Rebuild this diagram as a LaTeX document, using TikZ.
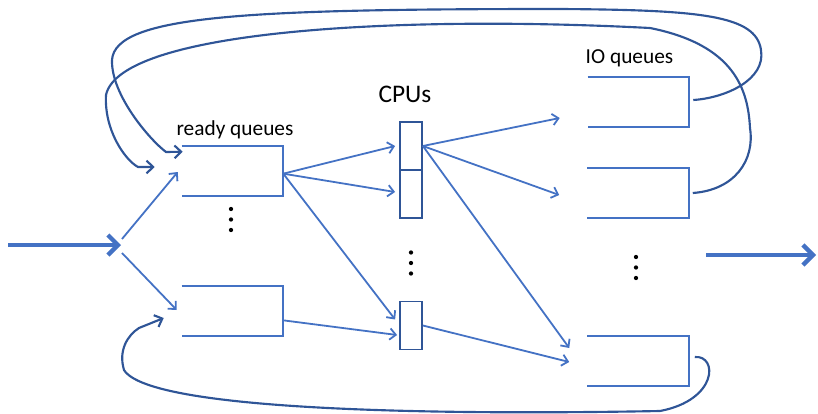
\documentclass[tikz,border=0pt]{standalone}
\usepackage{fontspec}
\setmainfont{Carlito}
\usetikzlibrary{arrows.meta,calc}
\definecolor{qblue}{RGB}{68,114,196}
\definecolor{fblue}{RGB}{47,85,151}
\tikzset{
  qbox/.style={minimum width=75.75pt, minimum height=37.5pt, inner sep=0pt},
  qline/.style={draw=qblue, line width=1.35pt},
  cpubox/.style={draw=fblue, line width=1.35pt, minimum width=16.5pt, minimum height=36pt, inner sep=0pt},
  arr/.style={-{Straight Barb[length=4.5pt,width=8.5pt]}, line width=1.35pt, draw=qblue},
  farr/.style={-{Straight Barb[length=5pt,width=9.5pt]}, line width=1.6pt, draw=fblue},
  bigarr/.style={-{Straight Barb[length=7.5pt,width=15pt]}, line width=3.2pt, draw=qblue},
  lbl/.style={font=\fontsize{16}{18}\selectfont, anchor=base, inner sep=0pt},
}
\begin{document}
\begin{tikzpicture}[x=0.75pt, y=-0.75pt]
  \useasboundingbox (0,0) rectangle (818,414);

  % queues and CPUs
  \node[qbox] (rq1) at (232.5,171) {};
  \node[qbox] (rq2) at (232.5,311) {};
  \node[qbox] (io1) at (638.5,102) {};
  \node[qbox] (io2) at (638,193) {};
  \node[qbox] (io3) at (638,361) {};
  \node[cpubox] (cpu1) at (411,146) {};
  \node[cpubox] (cpu2) at (411,194) {};
  \node[cpubox] (cpu3) at (411,325.5) {};

  \foreach \q in {rq1,rq2,io1,io2,io3}
    \draw[qline] (\q.north west) -- (\q.north east) -- (\q.south east) -- (\q.south west);

  \node[lbl] (rqlbl) at (235,135) {ready queues};
  \node[lbl, font=\fontsize{19}{21}\selectfont] (cpulbl) at (405,102) {CPUs};
  \node[lbl] (iolbl) at (629.5,63) {IO queues};

  % vertical dots
  \foreach \x/\y in {231/219.5, 411/263, 636/267.5}
    \foreach \d in {-10.5,0,10.5}
      \fill (\x,\y+\d) circle (1.6pt);

  % in and out
  \coordinate (src) at (8,245);
  \coordinate (split) at (121,245);
  \coordinate (exit) at (706,255);
  \coordinate (sink) at (816,255);
  \draw[bigarr] (src) -- (split);
  \draw[bigarr] (exit) -- (sink);
  \draw[arr] ([shift={(1,-6)}]split) -- ([shift={(-4,1)}]rq1.west);
  \draw[arr] ([shift={(1,8)}]split) -- ([shift={(-5,-1)}]rq2.west);

  % ready queues to CPUs
  \draw[arr] ([yshift=-2]rq1.east) -- ([shift={(-4,0)}]cpu1.west);
  \draw[arr] ([yshift=-2]rq1.east) -- ([shift={(-4,-2)}]cpu2.west);
  \draw[arr] ([yshift=-2]rq1.east) -- ([shift={(-4,-6)}]cpu3.west);
  \draw[arr] ([yshift=-7]rq2.east) -- ([shift={(-2,9.5)}]cpu3.west);

  % CPUs to IO queues
  \draw[arr] (cpu1.east) -- ([shift={(-28,16)}]io1.west);
  \draw[arr] (cpu1.east) -- ([shift={(-28,2)}]io2.west);
  \draw[arr] (cpu1.east) -- ([shift={(-18,-13)}]io3.west);
  \draw[arr] (cpu3.east) -- ([shift={(-18,1)}]io3.west);

  % back to the ready queues
  \draw[farr] ([shift={(4,-2)}]io1.east)
    .. controls (725,98) and (766,80) .. (761,50)
    .. controls (756,15) and (700,10) .. (560,9)
    .. controls (250,9) and (115,15) .. (112,60)
    .. controls (111,95) and (150,140) .. (166,152)
    -- ([shift={(1,6)}]rq1.north west);
  \draw[farr] ([shift={(4,0)}]io2.east)
    .. controls (735,190) and (755,160) .. (750,128)
    .. controls (748,90) and (735,45) .. (650,28)
    .. controls (400,15) and (120,30) .. (106,95)
    .. controls (104,130) and (125,160) .. (138,167)
    -- ([shift={(-27,-4)}]rq1.west);
  \draw[farr] ([shift={(6,-4)}]io3.east)
    .. controls (718,355) and (718,400) .. (660,411)
    .. controls (450,415) and (150,412) .. (124,370)
    .. controls (118,350) and (128,335) .. (139,328)
    -- ([shift={(-18,7)}]rq2.west);
\end{tikzpicture}
\end{document}
